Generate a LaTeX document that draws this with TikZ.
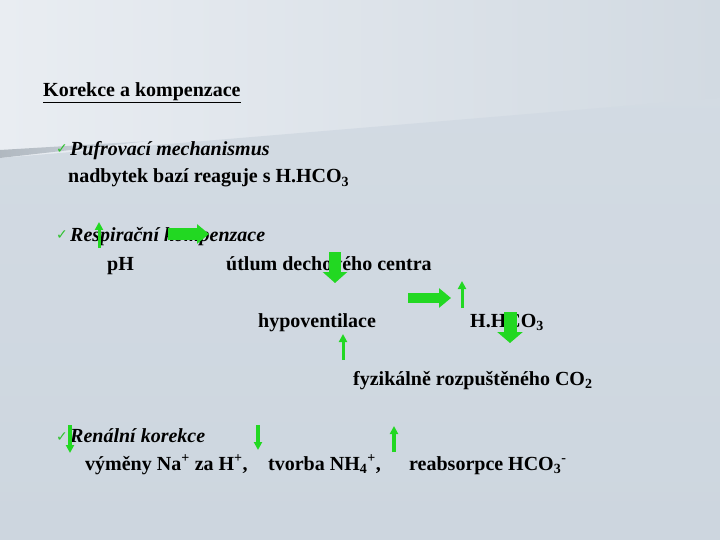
\documentclass[tikz,border=0pt]{standalone}
\usepackage{fontspec}
\setmainfont{Liberation Serif}
\newfontfamily\symfont{DejaVu Sans}
\usepackage{xcolor}
\usetikzlibrary{arrows.meta}
\definecolor{slidetop}{HTML}{E9EDF2}
\definecolor{slideright}{HTML}{D2DAE2}
\definecolor{slidelow}{HTML}{CDD6DF}
\definecolor{arrowgreen}{HTML}{22D822}
\definecolor{tickgreen}{HTML}{2EC12E}
\tikzset{
  txt/.style={anchor=base west, inner sep=0pt, font=\fontsize{20}{24}\selectfont\bfseries},
  head/.style={txt, font=\fontsize{20}{24}\selectfont\bfseries\itshape},
  tick/.style={anchor=base west, inner sep=0pt, text=tickgreen, font=\symfont\fontsize{14}{15}\selectfont},
  thinup/.style={draw=arrowgreen, line width=3pt, -{Triangle[length=8pt,width=8pt]}},
  bigarrow/.style={draw=arrowgreen, line width=11pt, -{Triangle[length=12pt,width=19pt]}},
}
\begin{document}
\begin{tikzpicture}[x=1pt,y=-1pt]
  \useasboundingbox (0,0) rectangle (720,540);
  % background of the slide
  \shade[left color=slidetop, right color=slideright] (0,0) rectangle (720,540);
  \shade[top color=slidelow!80!slidetop, bottom color=slidelow] (0,158) -- (720,98) -- (720,540) -- (0,540) -- cycle;
  \shade[left color=black!14!slidelow, right color=slidelow!80!slidetop] (0,150) -- (150,141) -- (0,158) -- cycle;

  % texts
  \node[txt] (title) at (43,97) {\underline{Korekce a kompenzace}};
  \node[tick] (tick1) at (56,154) {✓};
  \node[head] (pufr) at (70,156) {Pufrovací mechanismus};
  \node[txt] (nadb) at (68,183) {nadbytek bazí reaguje s H.HCO\textsubscript{3}};
  \node[tick] (tick2) at (56,240) {✓};
  \node[head] (resp) at (70,241) {Respirační kompenzace};
  \node[txt] (ph) at (107,270) {pH};
  \node[txt] (utlum) at (226,270) {útlum dechového centra};
  \node[txt] (hypo) at (258,327) {hypoventilace};
  \node[txt] (hhco) at (470,327) {H.HCO\textsubscript{3}};
  \node[txt] (fyz) at (353,385) {fyzikálně rozpuštěného CO\textsubscript{2}};
  \node[tick] (tick3) at (56,441) {✓};
  \node[head] (ren) at (70,442) {Renální korekce};
  \node[txt] (vym) at (85,470) {výměny Na\textsuperscript{+} za H\textsuperscript{+},};
  \node[txt] (tvor) at (268,470) {tvorba NH\textsubscript{4}\textsuperscript{+},};
  \node[txt] (reab) at (409,470) {reabsorpce HCO\textsubscript{3}\textsuperscript{-}};

  % green arrows over the text
  \draw[thinup] (99,248) -- (99,222);
  \draw[bigarrow] (168,234) -- (209,234);
  \draw[bigarrow, line width=12pt, -{Triangle[length=11pt,width=24pt]}] (335,252) -- (335,283);
  \draw[bigarrow, line width=10pt] (408,298) -- (451,298);
  \draw[thinup] (462,308) -- (462,281);
  \draw[bigarrow, line width=13pt, -{Triangle[length=11pt,width=25pt]}] (510,312) -- (510,343);
  \draw[thinup] (343,360) -- (343,334);
  \draw[thinup, line width=3.5pt] (70,425) -- (70,453);
  \draw[thinup, line width=3.5pt] (258,425) -- (258,450);
  \draw[thinup, line width=3.5pt] (394,452) -- (394,426);
\end{tikzpicture}
\end{document}
